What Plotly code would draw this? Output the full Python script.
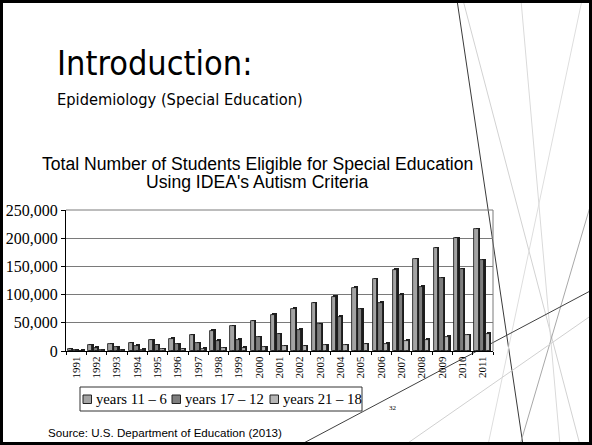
import plotly.graph_objects as go

# Students served under IDEA's autism category, by age band
years = ["1991", "1992", "1993", "1994", "1995", "1996", "1997", "1998", "1999", "2000",
         "2001", "2002", "2003", "2004", "2005", "2006", "2007", "2008", "2009", "2010", "2011"]
ages_6_11 = [3000, 10000, 12000, 14000, 19000, 22000, 28000, 36000, 44000, 53000,
             64000, 75000, 85000, 96000, 112000, 127000, 144000, 163000, 182000, 200000, 216000]
ages_12_17 = [1000, 6000, 7000, 9000, 10000, 12000, 14000, 18000, 20000, 24000,
              30000, 38000, 47000, 61000, 74000, 86000, 100000, 114000, 129000, 145000, 161000]
ages_18_21 = [500, 1000, 1000, 2000, 3000, 3000, 4000, 5000, 6000, 7000,
              8000, 8000, 10000, 10000, 12000, 13000, 18000, 19500, 25000, 28000, 31000]
series_names = ["years 11 \u2013 6", "years 17 \u2013 12", "years 21 \u2013 18"]
y_ticks = [0, 50000, 100000, 150000, 200000, 250000]

W, H = 592, 445
L, R, T, B = 66, 493, 210, 351  # plot box in pixels


def fx(x):
    return (x - L) / (R - L)


def fy(y):
    return (B - y) / (B - T)


face_colors = ["#a4a4a4", "#7e7e7e", "#b6b6b6"]
slot = 0.28
face_w = 0.21
depth_x = 0.075
depth_y = 2700

fig = go.Figure()
for i, (vals, name, col) in enumerate(zip([ages_6_11, ages_12_17, ages_18_21], series_names, face_colors)):
    off = -0.42 + i * slot
    # dark side/top of each pseudo-3D bar
    fig.add_bar(x=years, y=[v + depth_y for v in vals], width=face_w, offset=off + depth_x,
                marker=dict(color="#1e1e1e", line=dict(width=0)), showlegend=False, hoverinfo="skip")
    fig.add_bar(x=years, y=vals, width=face_w, offset=off, name=name,
                marker=dict(color=col, line=dict(color="#111111", width=0.8)), showlegend=False)

shapes = []
# plot box right edge and top
shapes.append(dict(type="line", xref="paper", yref="paper", x0=1, x1=1, y0=0, y1=1,
                   line=dict(color="#7a7a7a", width=1)))
shapes.append(dict(type="line", xref="paper", yref="paper", x0=0, x1=1, y0=1, y1=1,
                   line=dict(color="#7a7a7a", width=1)))

# decorative slide lines on the right
deco = [
    ((457, 0), (523, 445), "#3a3a3a", 1),
    ((463, 0), (580, 445), "#d2d2d2", 1),
    ((521, 0), (560, 445), "#dadada", 1),
    ((582, 0), (488, 445), "#dedede", 1),
    ((592, 200), (520, 445), "#a8a8a8", 1),
    ((300, 445), (592, 290), "#404040", 1),
    ((405, 445), (592, 315), "#d0d0d0", 1),
]
for (x0, y0), (x1, y1), c, w in deco:
    shapes.append(dict(type="line", xref="paper", yref="paper", x0=fx(x0), y0=fy(y0),
                       x1=fx(x1), y1=fy(y1), line=dict(color=c, width=w), layer="below"))

# slide frame
shapes.append(dict(type="rect", xref="paper", yref="paper", x0=fx(1.5), x1=fx(590.5),
                   y0=fy(1.5), y1=fy(443.5), line=dict(color="#000000", width=3)))

# legend box and swatches
shapes.append(dict(type="rect", xref="paper", yref="paper", x0=fx(80), x1=fx(362),
                   y0=fy(387), y1=fy(411), line=dict(color="#333333", width=1), fillcolor="white"))
swatch_x = [83, 172, 270]
for sx, col in zip(swatch_x, face_colors):
    shapes.append(dict(type="rect", xref="paper", yref="paper", x0=fx(sx), x1=fx(sx + 8.5),
                       y0=fy(395), y1=fy(403.5), line=dict(color="#222222", width=1), fillcolor=col))

annotations = []


def note(text, x, y, size, family, xanchor="left", color="#000000"):
    annotations.append(dict(text=text, xref="paper", yref="paper", x=fx(x), y=fy(y),
                            xanchor=xanchor, yanchor="middle", showarrow=False, borderpad=0,
                            font=dict(size=size, family=family, color=color)))


note("Introduction:", 56, 63, 34, "DejaVu Sans Condensed, DejaVu Sans")
note("Epidemiology (Special Education)", 56, 99, 16.3, "DejaVu Sans Condensed, DejaVu Sans")
note("Total Number of Students Eligible for Special Education", 257, 164, 17.6, "Liberation Sans, Arial", "center")
note("Using IDEA's Autism Criteria", 257, 182, 17.6, "Liberation Sans, Arial", "center")
for sx, name in zip(swatch_x, series_names):
    note(name, sx + 11.5, 399, 14.7, "Liberation Serif, Times New Roman")
note("32", 388, 408, 7, "Liberation Serif")
note("Source: U.S. Department of Education (2013)", 47, 432, 11.6, "Liberation Sans, Arial")

fig.update_layout(
    width=W, height=H,
    margin=dict(l=L, r=W - R, t=T, b=H - B, pad=0, autoexpand=False),
    paper_bgcolor="white", plot_bgcolor="white",
    barmode="overlay", bargap=0,
    showlegend=False,
    shapes=shapes, annotations=annotations,
    xaxis=dict(type="category", range=[-0.5, 20.5], showgrid=False, showline=True,
               linecolor="#000000", linewidth=1, ticks="outside", ticklen=3, automargin=False,
               tickson="boundaries", tickcolor="#000000", tickangle=-90,
               tickfont=dict(family="Liberation Serif, Times New Roman", size=11, color="#000000")),
    yaxis=dict(range=[0, 250000], tickvals=y_ticks, tickformat=",", showgrid=True,
               gridcolor="#7a7a7a", gridwidth=1, showline=True, linecolor="#000000",
               linewidth=1, ticks="outside", ticklen=4, tickcolor="#000000", zeroline=False,
               automargin=False,
               tickfont=dict(family="Liberation Serif, Times New Roman", size=16, color="#000000")),
)

fig.write_html("out.html")
